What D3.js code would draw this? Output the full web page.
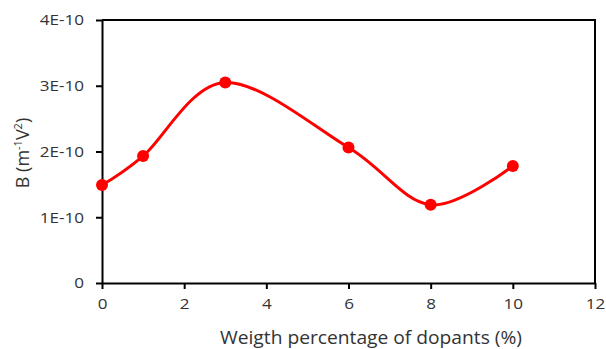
<!DOCTYPE html>
<html>
<head>
<meta charset="utf-8">
<script src="https://cdn.jsdelivr.net/npm/d3@7"></script>
<style>
  body { margin: 0; background: #fff; }
  text { font-family: "Open Sans", sans-serif; fill: #333; }
</style>
</head>
<body>
<div id="figure_area"></div>
<script>
// ----- DATA
var dopants = [0, 1, 3, 6, 8, 10];
var bValues = [1.49e-10, 1.93e-10, 3.05e-10, 2.06e-10, 1.19e-10, 1.78e-10];
var xTicks = [0, 2, 4, 6, 8, 10, 12];
var yTicks = [0, 1e-10, 2e-10, 3e-10, 4e-10];
var yTickLabels = ["0", "1E-10", "2E-10", "3E-10", "4E-10"];

const size = { width: 606, height: 349 };
const plot = { left: 102, right: 595, top: 20, bottom: 283 };

var svg = d3.select("#figure_area")
    .append("svg")
    .attr("width", size.width)
    .attr("height", size.height);

// the reference text is wider than its height suggests: stretch glyphs
function stretch(sel, k) {
    sel.each(function () {
        var w = this.getComputedTextLength();
        d3.select(this).attr("textLength", w * k).attr("lengthAdjust", "spacingAndGlyphs");
    });
}

// scales
var x_scale = d3.scaleLinear().domain([0, 12]).range([plot.left, plot.right]);
var y_scale = d3.scaleLinear().domain([0, 4e-10]).range([plot.bottom, plot.top]);

// frame (top and right)
svg.append("path")
    .attr("d", "M" + plot.left + "," + plot.top + "H" + plot.right + "V" + plot.bottom)
    .attr("fill", "none")
    .attr("stroke", "#000")
    .attr("stroke-width", 2);

// x axis
var x_axis = d3.axisBottom(x_scale).tickValues(xTicks).tickSize(6).tickPadding(9).tickSizeOuter(0);
var gx = svg.append("g")
    .attr("transform", "translate(0," + plot.bottom + ")")
    .call(x_axis);

// y axis
var y_axis = d3.axisLeft(y_scale).tickValues(yTicks).tickSize(6).tickPadding(12).tickSizeOuter(0)
    .tickFormat(function (d, i) { return yTickLabels[i]; });
var gy = svg.append("g")
    .attr("transform", "translate(" + plot.left + ",0)")
    .call(y_axis);

[gx, gy].forEach(function (g) {
    g.select(".domain").attr("stroke", "#000").attr("stroke-width", 2);
    g.selectAll(".tick line").attr("stroke", "#000").attr("stroke-width", 2);
    g.selectAll(".tick text").style("font-size", "15px").attr("fill", "#333");
    stretch(g.selectAll(".tick text"), 1.14);
});

// axis titles
var xTitle = svg.append("text")
    .attr("x", 371)
    .attr("y", 344)
    .attr("text-anchor", "middle")
    .style("font-size", "18px")
    .text("Weigth percentage of dopants (%)");
xTitle.attr("textLength", 302).attr("lengthAdjust", "spacingAndGlyphs");

var yTitle = svg.append("text")
    .attr("transform", "translate(29,153) rotate(-90)")
    .attr("text-anchor", "middle")
    .style("font-size", "18px");
yTitle.append("tspan").text("B (m");
yTitle.append("tspan").attr("dy", -7).style("font-size", "11px").text("-1");
yTitle.append("tspan").attr("dy", 7).text("V");
yTitle.append("tspan").attr("dy", -7).style("font-size", "11px").text("2");
yTitle.append("tspan").attr("dy", 7).text(")");

// smoothed line
var points = dopants.map(function (d, i) { return { x: d, y: bValues[i] }; });
svg.append("path")
    .datum(points)
    .attr("fill", "none")
    .attr("stroke", "#ff0000")
    .attr("stroke-width", 3)
    .attr("d", d3.line()
        .curve(d3.curveCardinal.tension(0))
        .x(function (d) { return x_scale(d.x); })
        .y(function (d) { return y_scale(d.y); })
    );

// markers
svg.selectAll("circle.pt")
    .data(points)
    .enter()
    .append("circle")
    .attr("class", "pt")
    .attr("cx", function (d) { return x_scale(d.x); })
    .attr("cy", function (d) { return y_scale(d.y); })
    .attr("r", 6)
    .attr("fill", "#ff0000");
</script>
</body>
</html>
